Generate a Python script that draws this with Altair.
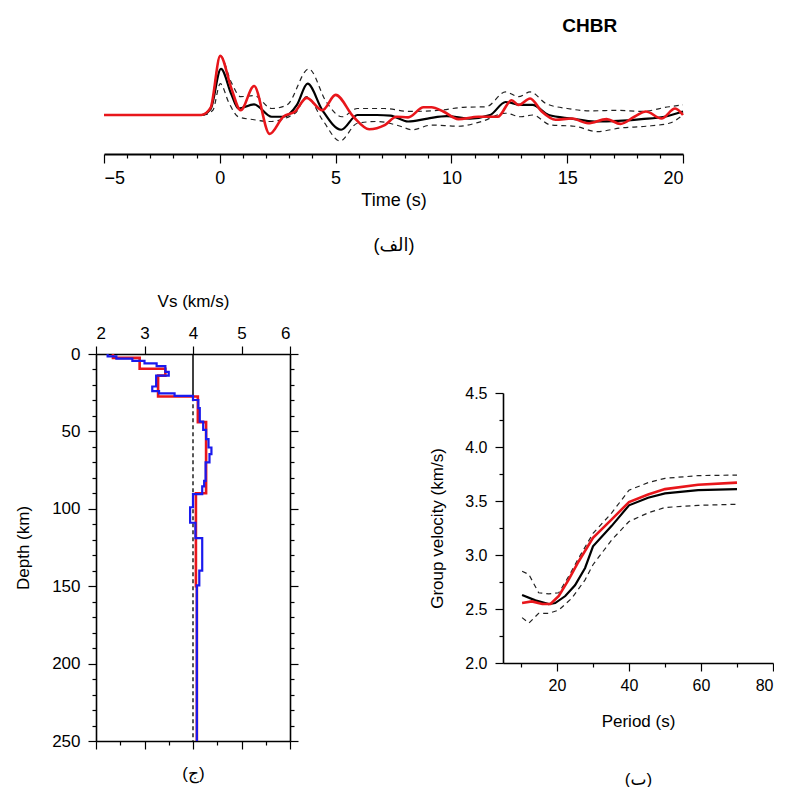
import altair as alt
import pandas as pd

FONT = "Liberation Sans, DejaVu Sans"
RED = "#e8161b"
BLUE = "#1a1aee"

# ---------------- receiver function (top panel) ----------------
rf_red_t = [-5, -0.8, -0.4, 0.02, 0.5, 0.9, 1.48, 2.15, 2.74, 3.25, 3.75, 4.43, 5.0, 5.77, 6.45, 7.12, 7.63, 8.13, 8.8, 9.14,
            9.65, 10.3, 11.16, 12.0, 12.6, 12.9, 13.4, 13.9, 14.5, 15.2, 15.9, 16.7, 17.3, 17.9, 18.4, 19.07, 19.66, 20]
rf_red_a = [0, 0, 0.12, 1.0, 0.45, 0.08, 0.49, -0.32, -0.03, 0.06, 0.29, 0.08, 0.34, -0.03, -0.24, -0.17, -0.03, -0.04, 0.13, 0.13,
            0.06, -0.07, -0.03, -0.03, 0.25, 0.17, 0.28, 0.06, -0.08, -0.06, -0.14, -0.07, -0.15, -0.03, 0.06, -0.06, 0.11, 0.0]

rf_mean_t = [-5, -0.8, -0.4, 0.05, 0.5, 0.8, 1.48, 2.24, 2.74, 3.33, 3.79, 4.43, 5.24, 5.94, 6.78, 7.37, 8.13, 8.97, 9.8, 10.8,
             11.67, 12.34, 13.0, 13.5, 14.2, 15.2, 16.2, 17.2, 18.2, 19.2, 20]
rf_mean_a = [0, 0, 0.1, 0.78, 0.35, 0.11, 0.18, -0.03, -0.03, 0.17, 0.53, 0.08, -0.25, 0.0, 0.0, -0.01, -0.11, -0.06, -0.02, -0.06,
             0.0, 0.22, 0.17, 0.17, 0.0, -0.06, -0.11, -0.1, -0.07, -0.03, 0.06]

rf_up_t = [-5, -0.8, -0.4, 0.02, 0.5, 0.9, 1.48, 2.24, 2.9, 3.84, 4.6, 5.27, 5.94, 7.12, 8.13, 9.48, 10.5, 11.5, 12.34, 12.9,
           13.4, 14.1, 15.0, 16.05, 17.2, 18.2, 19.4, 20]
rf_up_a = [0, 0, 0.13, 1.0, 0.55, 0.31, 0.33, 0.11, 0.17, 0.78, 0.22, -0.03, 0.11, 0.11, 0.06, 0.08, 0.13, 0.14, 0.39, 0.31,
           0.39, 0.19, 0.11, 0.07, 0.08, 0.06, 0.14, 0.17]

rf_lo_t = [-5, -0.7, -0.3, 0.02, 0.4, 0.8, 1.48, 2.15, 3.25, 3.75, 4.43, 5.19, 5.94, 6.78, 7.8, 8.3, 9.14, 10.3, 11.3, 12.34,
           13.0, 13.5, 14.3, 15.3, 16.3, 17.3, 18.4, 19.4, 20]
rf_lo_a = [0, 0, 0.08, 0.53, 0.2, -0.03, -0.08, -0.11, 0.03, 0.31, -0.08, -0.44, -0.14, -0.11, -0.19, -0.25, -0.17, -0.19, -0.11, 0.03,
           -0.03, 0.0, -0.17, -0.19, -0.28, -0.22, -0.19, -0.14, 0.0]

time_ticks = list(range(-5, 21))

# ---------------- Vs profiles (bottom left) ----------------
red_bounds = [0, 2.5, 9.5, 14, 27.5, 44, 90, 150, 250]
red_vs = [2.35, 2.90, 3.43, 3.28, 4.10, 4.27, 4.06, 4.08]

blue_bounds = [0, 1.5, 3.0, 4.5, 6.0, 7.8, 11.5, 14.0, 21.0, 24.0, 25.5, 27.0, 29.7, 35.0, 43.7, 49.0, 55.0, 60.4, 64.7,
               70.0, 82.0, 85.5, 90.5, 99.0, 109.0, 119.0, 140.0, 149.5, 250]
blue_vs = [2.24, 2.42, 2.75, 3.0, 3.25, 3.43, 3.50, 3.24, 3.16, 3.30, 3.62, 4.0, 4.11, 4.14, 4.21, 4.27, 4.32, 4.38,
           4.34, 4.26, 4.23, 4.19, 4.00, 3.94, 4.05, 4.19, 4.13, 4.08]

ref_vs = 4.0
ref_solid = [0, 28]
ref_dashed = [28, 250]
vs_ticks = [2 + 0.5 * i for i in range(9)]
depth_ticks = list(range(0, 251, 10))

# ---------------- dispersion (bottom right) ----------------
per_mean = [10.3, 14, 17.7, 19.5, 22.3, 25, 27.8, 30, 35.2, 40, 45.3, 50, 59.2, 70]
u_mean = [2.63, 2.58, 2.546, 2.555, 2.62, 2.72, 2.88, 3.08, 3.27, 3.46, 3.53, 3.57, 3.60, 3.61]
per_red = [10.3, 13, 15.9, 18.2, 20.5, 23.2, 26, 30, 35.2, 40, 45.3, 50, 59.2, 70]
u_red = [2.555, 2.57, 2.546, 2.546, 2.62, 2.77, 2.94, 3.16, 3.33, 3.49, 3.56, 3.61, 3.65, 3.67]
per_up = [10.3, 12.2, 14.9, 17.7, 20.5, 23.2, 26, 30, 35.2, 40, 45.3, 50, 59.2, 70]
u_up = [2.85, 2.82, 2.65, 2.64, 2.65, 2.80, 2.97, 3.2, 3.39, 3.60, 3.67, 3.71, 3.735, 3.74]
per_lo = [10.3, 12.2, 14.9, 17.7, 20.5, 24.1, 27.8, 30, 35.2, 40, 45.3, 50, 59.2, 70]
u_lo = [2.42, 2.37, 2.46, 2.46, 2.49, 2.60, 2.77, 2.91, 3.14, 3.31, 3.39, 3.44, 3.46, 3.47]
per_ticks = list(range(10, 81, 10))
u_ticks = [2 + 0.25 * i for i in range(11)]


def spacer(w, h):
    return alt.Chart(pd.DataFrame({"s": [0]})).mark_point(opacity=0, size=0).encode(
        x=alt.X("s:Q", axis=None), y=alt.Y("s:Q", axis=None)
    ).properties(width=w, height=h)


def cond_tick(test, big, small):
    return {"condition": {"test": test, "value": big}, "value": small}


# ---- top panel ----
xs_t = alt.Scale(domain=[-5, 20], nice=False)
ys_t = alt.Scale(domain=[-0.66, 1.1], nice=False, zero=False)
time_axis = alt.Axis(
    values=time_ticks, labelExpr="datum.value % 5 === 0 ? datum.label : ''",
    tickSize=cond_tick("datum.value % 5 === 0", 9, 4), labelPadding=6,
    labelFontSize=18, titleFontSize=18, title=["Time (s)", "(الف)"], titleLineHeight=45,
    titlePadding=4, domainWidth=2,
)


def rf_layer(t, a, color, width, dash=None):
    mk = dict(color=color, strokeWidth=width, interpolate="monotone")
    if dash:
        mk["strokeDash"] = dash
    return alt.Chart(pd.DataFrame({"t": t, "a": a})).mark_line(**mk).encode(
        x=alt.X("t:Q", scale=xs_t, axis=time_axis), y=alt.Y("a:Q", scale=ys_t, axis=None)
    )


top = alt.layer(
    rf_layer(rf_up_t, rf_up_a, "#222222", 1.2, [5, 4]),
    rf_layer(rf_lo_t, rf_lo_a, "#222222", 1.2, [5, 4]),
    rf_layer(rf_mean_t, rf_mean_a, "black", 2.2),
    rf_layer(rf_red_t, rf_red_a, RED, 2.6),
).properties(
    width=579, height=104,
    title=alt.TitleParams("CHBR", anchor="end", dx=-71, fontSize=19, fontWeight="bold", font=FONT, offset=14),
)


# ---- Vs panel ----
def step_df(bounds, vs):
    rows = []
    for i, v in enumerate(vs):
        rows.append({"vs": v, "dep": bounds[i], "o": 2 * i})
        rows.append({"vs": v, "dep": bounds[i + 1], "o": 2 * i + 1})
    return pd.DataFrame(rows)


xs_v = alt.Scale(domain=[2, 6], nice=False)
ys_v = alt.Scale(domain=[0, 250], nice=False, reverse=True)
vs_tick_test = "datum.value % 1 === 0"
dep_tick_test = "datum.value % 50 === 0"
ax_top = alt.Axis(orient="top", values=vs_ticks, format="d", labelExpr="datum.value % 1 === 0 ? datum.label : ''",
                  tickSize=cond_tick(vs_tick_test, 8, 4), labelPadding=4, labelFontSize=17, titleFontSize=17,
                  title="Vs (km/s)", titlePadding=14)
ax_left = alt.Axis(orient="left", values=depth_ticks, labelExpr="datum.value % 50 === 0 ? datum.label : ''",
                   tickSize=cond_tick(dep_tick_test, 8, 4), labelPadding=8, labelFontSize=17, titleFontSize=17,
                   title="Depth (km)", titlePadding=19)
ax_bottom = alt.Axis(orient="bottom", values=vs_ticks, labels=False,
                     tickSize=cond_tick(vs_tick_test, 8, 4), title="(ج)", titleFontSize=17, titlePadding=16)
ax_right = alt.Axis(orient="right", values=depth_ticks, labels=False,
                    tickSize=cond_tick(dep_tick_test, 8, 4), title=None)

red_line = alt.Chart(step_df(red_bounds, red_vs)).mark_line(color=RED, strokeWidth=2.6).encode(
    x=alt.X("vs:Q", scale=xs_v, axis=ax_top), y=alt.Y("dep:Q", scale=ys_v, axis=ax_left), order="o:Q")
blue_line = alt.Chart(step_df(blue_bounds, blue_vs)).mark_line(color=BLUE, strokeWidth=2.2).encode(
    x=alt.X("vs:Q", scale=xs_v, axis=ax_bottom), y=alt.Y("dep:Q", scale=ys_v, axis=ax_right), order="o:Q")
ref1 = alt.Chart(pd.DataFrame({"vs": [ref_vs], "d0": [ref_solid[0]], "d1": [ref_solid[1]]})).mark_rule(
    color="black", strokeWidth=1.5).encode(
    x=alt.X("vs:Q", scale=xs_v, axis=None), y=alt.Y("d0:Q", scale=ys_v, axis=None), y2="d1:Q")
ref2 = alt.Chart(pd.DataFrame({"vs": [ref_vs], "d0": [ref_dashed[0]], "d1": [ref_dashed[1]]})).mark_rule(
    color="black", strokeWidth=1.3, strokeDash=[4, 3]).encode(
    x=alt.X("vs:Q", scale=xs_v, axis=None), y=alt.Y("d0:Q", scale=ys_v, axis=None), y2="d1:Q")

vs_panel = alt.layer(ref1, ref2, red_line, blue_line).resolve_axis(x="independent", y="independent").properties(
    width=194, height=387)

# ---- dispersion panel ----
xs_d = alt.Scale(domain=[5, 80], nice=False)
ys_d = alt.Scale(domain=[2, 4.5], nice=False, zero=False)
ax_per = alt.Axis(values=per_ticks, labelExpr="datum.value % 20 === 0 ? datum.label : ''",
                  tickSize=cond_tick("datum.value % 20 === 0", 8, 4), labelPadding=6, labelFontSize=16,
                  titleFontSize=17, title=["Period (s)", "(ب)"], titleLineHeight=58, titlePadding=20)
ax_u = alt.Axis(values=u_ticks, format=".1f", labelExpr="datum.value % 0.5 === 0 ? datum.label : ''",
                tickSize=cond_tick("datum.value % 0.5 === 0", 8, 4), labelPadding=8, labelFontSize=16,
                titleFontSize=17, title="Group velocity (km/s)", titlePadding=18)


def disp_layer(p, u, color, width, dash=None):
    mk = dict(color=color, strokeWidth=width)
    if dash:
        mk["strokeDash"] = dash
    return alt.Chart(pd.DataFrame({"p": p, "u": u})).mark_line(**mk).encode(
        x=alt.X("p:Q", scale=xs_d, axis=ax_per),
        y=alt.Y("u:Q", scale=ys_d, axis=ax_u),
    )


disp = alt.layer(
    disp_layer(per_up, u_up, "#222222", 1.2, [5, 4]),
    disp_layer(per_lo, u_lo, "#222222", 1.2, [5, 4]),
    disp_layer(per_mean, u_mean, "black", 2.2),
    disp_layer(per_red, u_red, RED, 2.6),
).properties(width=270, height=270)

row1 = alt.hconcat(spacer(2, 1), top, spacing=0)
right_col = alt.vconcat(spacer(1, 31), disp, spacing=0)
row2 = alt.hconcat(vs_panel, right_col, spacing=129)

chart = alt.vconcat(row1, row2, spacing=38).properties(
    padding={"left": 14, "top": 17, "right": 0, "bottom": 0}
).configure_view(stroke=None).configure_axis(
    labelFont=FONT, titleFont=FONT, domainColor="black", tickColor="black", labelColor="black",
    titleColor="black", domainWidth=1.6, tickWidth=1.2, grid=False, titleFontWeight="normal",
).configure_concat(spacing=0)

chart.save("out.html", embed_options={"renderer": "svg", "actions": False})
